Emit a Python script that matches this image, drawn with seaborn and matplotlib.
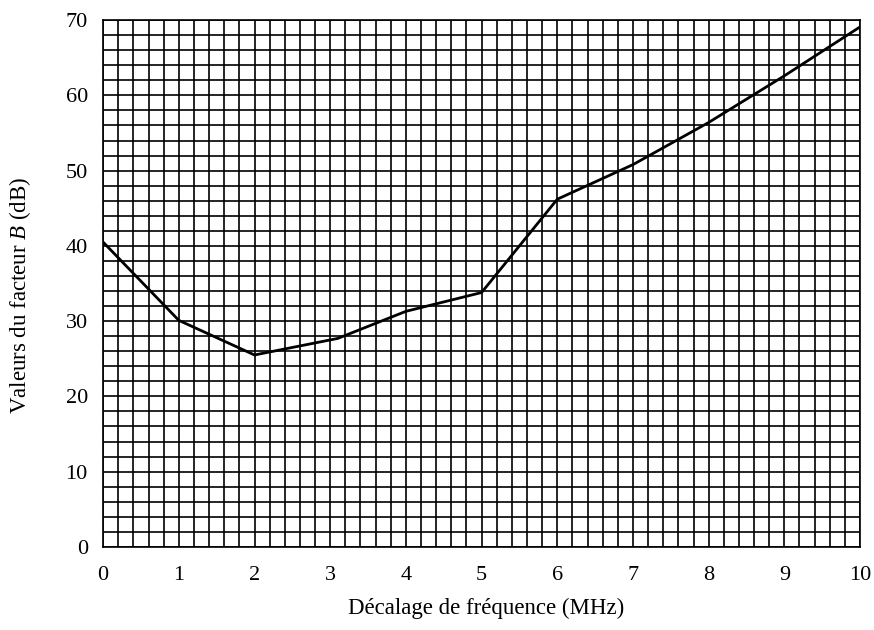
import matplotlib
matplotlib.use("Agg")
import matplotlib.pyplot as plt
from matplotlib.ticker import MultipleLocator
import seaborn as sns

# Décalage de fréquence (MHz) et valeurs du facteur B (dB)
decalage_mhz = [0, 1, 2, 3.1, 4, 5, 6, 7, 8, 9, 10]
facteur_b_db = [40.5, 30.1, 25.5, 27.7, 31.3, 33.8, 46.2, 50.8, 56.4, 62.6, 69.1]

x_ticks = list(range(0, 11))
y_ticks = list(range(0, 71, 10))

sns.set_theme(style="white")
plt.rcParams["font.family"] = ["Liberation Serif", "DejaVu Serif"]
plt.rcParams["mathtext.fontset"] = "custom"
plt.rcParams["mathtext.rm"] = "Liberation Serif"
plt.rcParams["mathtext.it"] = "Liberation Serif:italic"

fig, ax = plt.subplots(figsize=(8.74, 6.3), dpi=100)
fig.subplots_adjust(left=0.118, right=0.984, top=0.968, bottom=0.132)

sns.lineplot(x=decalage_mhz, y=facteur_b_db, sort=False, color="black",
             linewidth=2.0, ax=ax, zorder=3)

ax.set_xlim(0, 10)
ax.set_ylim(0, 70)
ax.set_xticks(x_ticks)
ax.set_yticks(y_ticks)
ax.xaxis.set_minor_locator(MultipleLocator(0.2))
ax.yaxis.set_minor_locator(MultipleLocator(2))

# papier millimétré : même trait pour toutes les lignes
ax.grid(True, which="both", color="black", linewidth=1.2)
ax.set_axisbelow(True)
for sp in ax.spines.values():
    sp.set_color("black")
    sp.set_linewidth(1.2)

ax.tick_params(which="both", length=0, labelsize=16, colors="black")
ax.tick_params(axis="x", pad=14)
ax.tick_params(axis="y", pad=11)

ax.set_xlabel("Décalage de fréquence (MHz)", fontsize=16.5, color="black")
ax.set_ylabel("Valeurs du facteur $B$ (dB)", fontsize=16.5, color="black")
ax.xaxis.set_label_coords(0.506, -0.097)
ax.yaxis.set_label_coords(-0.093, 0.478)

fig.savefig("out.png", dpi=100, facecolor="white")
